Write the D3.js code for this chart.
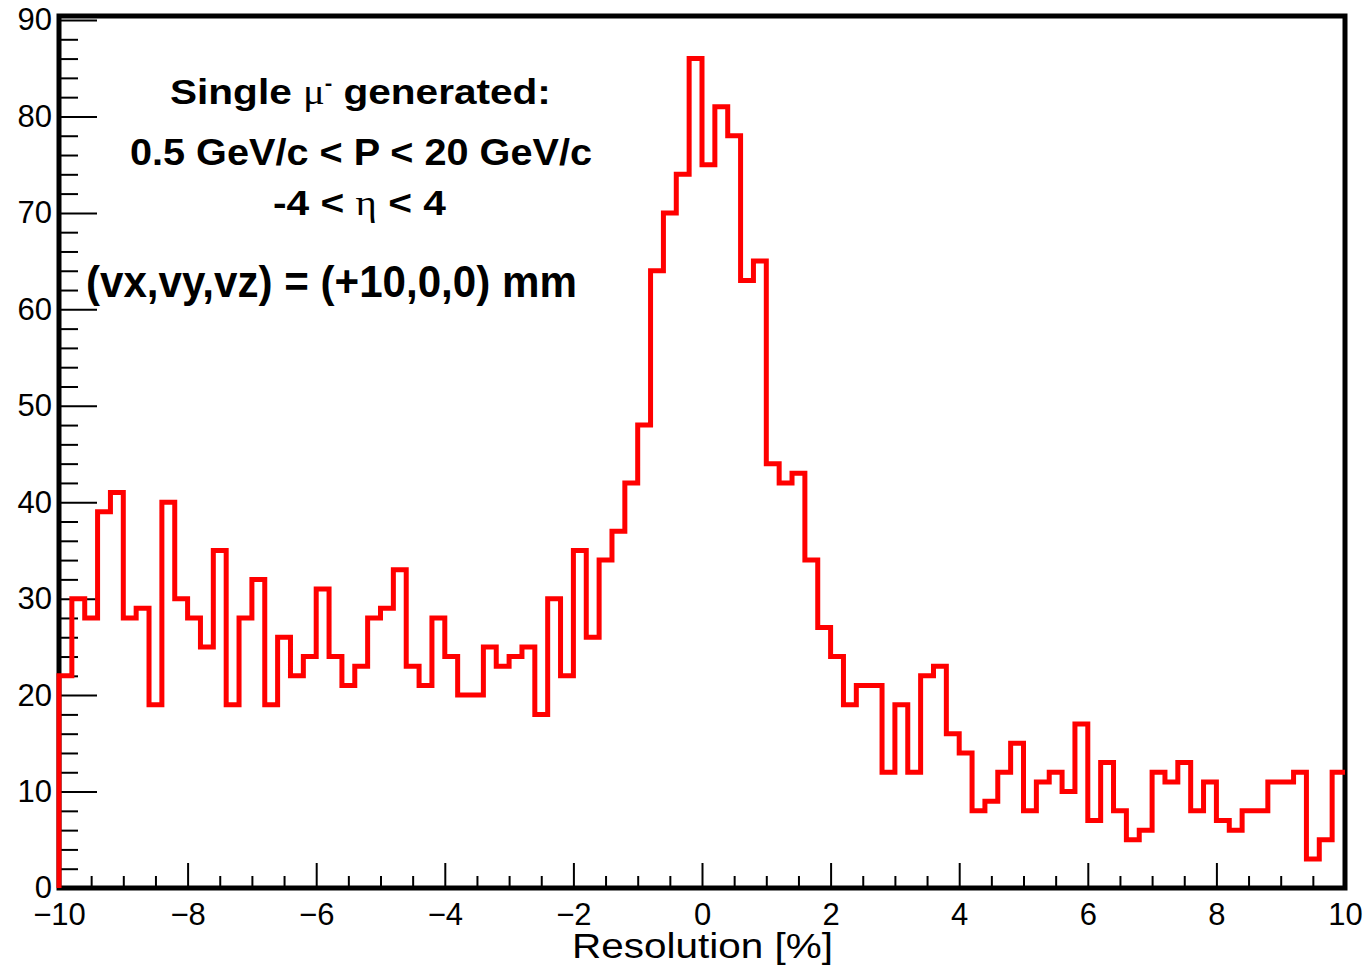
<!DOCTYPE html>
<html>
<head>
<meta charset="utf-8">
<script src="https://cdn.jsdelivr.net/npm/d3@7"></script>
<style>
  body { margin: 0; background: #fff; }
  text { font-family: "Liberation Sans", Arial, sans-serif; }
</style>
</head>
<body>
<svg id="chart" width="1368" height="970"></svg>
<script>
// histogram: 100 bins of 0.2 % from -10 to 10
const X_DOMAIN = [-10, 10];
const Y_DOMAIN = [0, 90];
const BIN_WIDTH = 0.2;
const COUNTS = [
  22, 30, 28, 39, 41, 28, 29, 19, 40, 30,
  28, 25, 35, 19, 28, 32, 19, 26, 22, 24,
  31, 24, 21, 23, 28, 29, 33, 23, 21, 28,
  24, 20, 20, 25, 23, 24, 25, 18, 30, 22,
  35, 26, 34, 37, 42, 48, 64, 70, 74, 86,
  75, 81, 78, 63, 65, 44, 42, 43, 34, 27,
  24, 19, 21, 21, 12, 19, 12, 22, 23, 16,
  14, 8, 9, 12, 15, 8, 11, 12, 10, 17,
  7, 13, 8, 5, 6, 12, 11, 13, 8, 11,
  7, 6, 8, 8, 11, 11, 12, 3, 5, 12
];
const X_TICKS = [-10, -8, -6, -4, -2, 0, 2, 4, 6, 8, 10];
const X_MINOR_STEP = 0.5;
const Y_TICKS = [0, 10, 20, 30, 40, 50, 60, 70, 80, 90];
const Y_MINOR_STEP = 2;
const X_TITLE = 'Resolution [%]';

// frame geometry
const LEFT = 59, RIGHT = 1345, TOP = 16, BOTTOM = 888;

const svg = d3.select('#chart');

const xscale = d3.scaleLinear().domain(X_DOMAIN).range([LEFT, RIGHT]);
const yscale = d3.scaleLinear().domain(Y_DOMAIN).range([BOTTOM, 20]);

const xMinor = d3.range(X_DOMAIN[0], X_DOMAIN[1] + 0.001, X_MINOR_STEP)
                 .filter(v => !X_TICKS.includes(v));
const yMinor = d3.range(Y_DOMAIN[0], Y_DOMAIN[1] + 0.001, Y_MINOR_STEP)
                 .filter(v => !Y_TICKS.includes(v));

// y axis (ticks point inside, like ROOT)
svg.append('g')
    .attr('transform', 'translate(' + LEFT + ',0)')
    .call(d3.axisLeft(yscale).tickValues(Y_TICKS).tickSize(-38).tickPadding(7)
            .tickFormat(d3.format('d')))
    .call(g => g.select('.domain').remove())
    .call(g => g.selectAll('line').attr('stroke-width', 2))
    .call(g => g.selectAll('text').attr('font-size', 31).attr('fill', '#000')
                .attr('font-family', '"Liberation Sans", Arial, sans-serif'));

svg.append('g')
    .attr('transform', 'translate(' + LEFT + ',0)')
    .call(d3.axisLeft(yscale).tickValues(yMinor).tickSize(-19).tickFormat(''))
    .call(g => g.select('.domain').remove())
    .call(g => g.selectAll('line').attr('stroke-width', 2));

// x axis
svg.append('g')
    .attr('transform', 'translate(0,' + BOTTOM + ')')
    .call(d3.axisBottom(xscale).tickValues(X_TICKS).tickSize(-25).tickPadding(15)
            .tickFormat(d3.format('d')))
    .call(g => g.select('.domain').remove())
    .call(g => g.selectAll('line').attr('stroke-width', 2))
    .call(g => g.selectAll('text').attr('font-size', 31).attr('fill', '#000')
                .attr('font-family', '"Liberation Sans", Arial, sans-serif'));

svg.append('g')
    .attr('transform', 'translate(0,' + BOTTOM + ')')
    .call(d3.axisBottom(xscale).tickValues(xMinor).tickSize(-12).tickFormat(''))
    .call(g => g.select('.domain').remove())
    .call(g => g.selectAll('line').attr('stroke-width', 2));

// frame
svg.append('rect')
    .attr('x', LEFT).attr('y', TOP)
    .attr('width', RIGHT - LEFT).attr('height', BOTTOM - TOP)
    .attr('fill', 'none').attr('stroke', '#000').attr('stroke-width', 5);

// histogram outline
const steps = [{x: X_DOMAIN[0], y: 0}]
    .concat(COUNTS.map((c, i) => ({x: X_DOMAIN[0] + i * BIN_WIDTH, y: c})))
    .concat([{x: X_DOMAIN[1], y: COUNTS[COUNTS.length - 1]}]);

svg.append('path')
    .datum(steps)
    .attr('d', d3.line().x(d => xscale(d.x)).y(d => yscale(d.y)).curve(d3.curveStepAfter))
    .attr('fill', 'none')
    .attr('stroke', '#ff0000')
    .attr('stroke-width', 5)
    .attr('stroke-linejoin', 'miter');

// stretch a text so it spans x0..x1 on the given baseline
function fitText(t, x0, x1, baseline) {
  const w = t.node().getComputedTextLength();
  t.attr('transform', 'translate(' + x0 + ',' + baseline + ') scale(' + ((x1 - x0) / w) + ',1)');
}

const SERIF = '"Liberation Serif", "DejaVu Serif", serif';

// annotation lines
let t1 = svg.append('text').attr('font-size', 36).attr('font-weight', 'bold');
t1.append('tspan').text('Single  ');
t1.append('tspan').attr('font-family', SERIF).attr('font-weight', 'normal').text('μ');
t1.append('tspan').attr('font-size', 20).attr('dy', -14).text('-');
t1.append('tspan').attr('dy', 14).text(' generated:');
fitText(t1, 170, 551, 104);

let t2 = svg.append('text').attr('font-size', 36).attr('font-weight', 'bold')
    .text('0.5 GeV/c < P < 20 GeV/c');
fitText(t2, 130, 592, 165);

let t3 = svg.append('text').attr('font-size', 36).attr('font-weight', 'bold');
t3.append('tspan').text('-4 <  ');
t3.append('tspan').attr('font-family', SERIF).attr('font-weight', 'normal').text('η');
t3.append('tspan').text(' < 4');
fitText(t3, 273, 446, 215);

let t4 = svg.append('text').attr('font-size', 44).attr('font-weight', 'bold')
    .attr('font-family', 'Lato, "Open Sans", sans-serif')
    .text('(vx,vy,vz) = (+10,0,0) mm');
fitText(t4, 86, 577, 297);

// x axis title
let tx = svg.append('text').attr('font-size', 35).text(X_TITLE);
fitText(tx, 572, 833, 958);
</script>
</body>
</html>
